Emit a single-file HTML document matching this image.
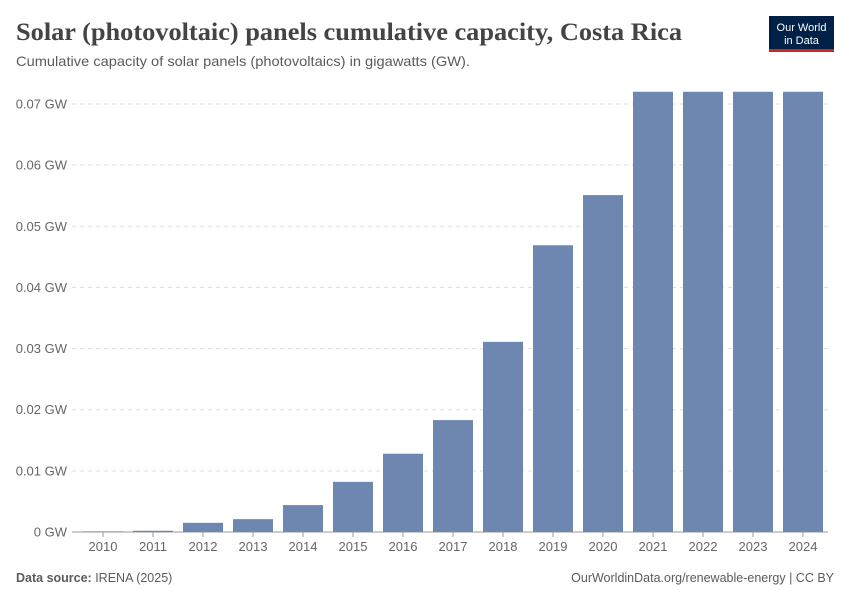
<!DOCTYPE html>
<html><head><meta charset="utf-8">
<style>
body{margin:0;background:#fff;width:850px;height:600px;overflow:hidden;font-family:"Liberation Sans",sans-serif}
</style></head><body>
<svg width="850" height="600" xmlns="http://www.w3.org/2000/svg">
<text x="16" y="40" font-family="Liberation Serif,serif" font-size="25" font-weight="bold" fill="#444" textLength="666" lengthAdjust="spacingAndGlyphs">Solar (photovoltaic) panels cumulative capacity, Costa Rica</text>
<text x="16" y="66" font-size="14" fill="#5b5b5b" textLength="454" lengthAdjust="spacingAndGlyphs">Cumulative capacity of solar panels (photovoltaics) in gigawatts (GW).</text>
<g>
<rect x="769" y="16" width="65" height="36" fill="#002147"/>
<rect x="769" y="49" width="65" height="3" fill="#ce261e"/>
<text x="801.5" y="31" font-size="11" fill="#fff" text-anchor="middle">Our World</text>
<text x="801.5" y="44" font-size="11" fill="#fff" text-anchor="middle">in Data</text>
</g>
<g id="grid"></g>
<g id="bars"></g>
<g id="xlabels"></g>
<text x="16" y="582" font-size="12.5" fill="#5b5b5b"><tspan font-weight="bold">Data source:</tspan> IRENA (2025)</text>
<text x="834" y="582" font-size="12.5" fill="#5b5b5b" text-anchor="end">OurWorldinData.org/renewable-energy | CC BY</text>
</svg>
<script>
const years=["2010","2011","2012","2013","2014","2015","2016","2017","2018","2019","2020","2021","2022","2023","2024"];
const capacity=[0.0001,0.0002,0.0015,0.0021,0.0044,0.0082,0.0128,0.0183,0.0311,0.0469,0.0551,0.0720,0.0720,0.0720,0.0720];
const yTicks=[0,0.01,0.02,0.03,0.04,0.05,0.06,0.07];
const yTickLabels=["0 GW","0.01 GW","0.02 GW","0.03 GW","0.04 GW","0.05 GW","0.06 GW","0.07 GW"];
const NS="http://www.w3.org/2000/svg";
const y0=532,pxPer=(532-104)/0.07;
const yScale=v=>y0-v*pxPer;
const x0=103,step=(803-103)/(years.length-1),bw=40;
const xScale=i=>x0+i*step;
const grid=document.getElementById('grid'),bars=document.getElementById('bars'),xl=document.getElementById('xlabels');
function mk(t,a){const e=document.createElementNS(NS,t);for(const k in a)e.setAttribute(k,a[k]);return e;}
yTicks.forEach((v,i)=>{
 const y=yScale(v);
 const l=mk('line',{x1:72,x2:828,y1:y,y2:y,stroke:i==0?'#999':'#ddd','stroke-dasharray':i==0?'':'4,4'});
 
 
 grid.appendChild(l);
 const t=mk('text',{x:67,y:y+4.5,'font-size':13,fill:'#666','text-anchor':'end'});
 t.textContent=yTickLabels[i];
 
 
 grid.appendChild(t);
});
years.forEach((yr,i)=>{
 const cx=xScale(i),top=yScale(capacity[i]);
 const r=mk('rect',{x:cx-bw/2,y:top,width:bw,height:y0-top,fill:'#6d87b0'});
 
 
 bars.appendChild(r);
 const tk=mk('line',{x1:cx,x2:cx,y1:532,y2:537,stroke:'#999'});
 
 
 xl.appendChild(tk);
 const t=mk('text',{x:cx,y:551,'font-size':13,fill:'#666','text-anchor':'middle'});
 t.textContent=yr;
 
 
 xl.appendChild(t);
});
</script>
</body></html>
